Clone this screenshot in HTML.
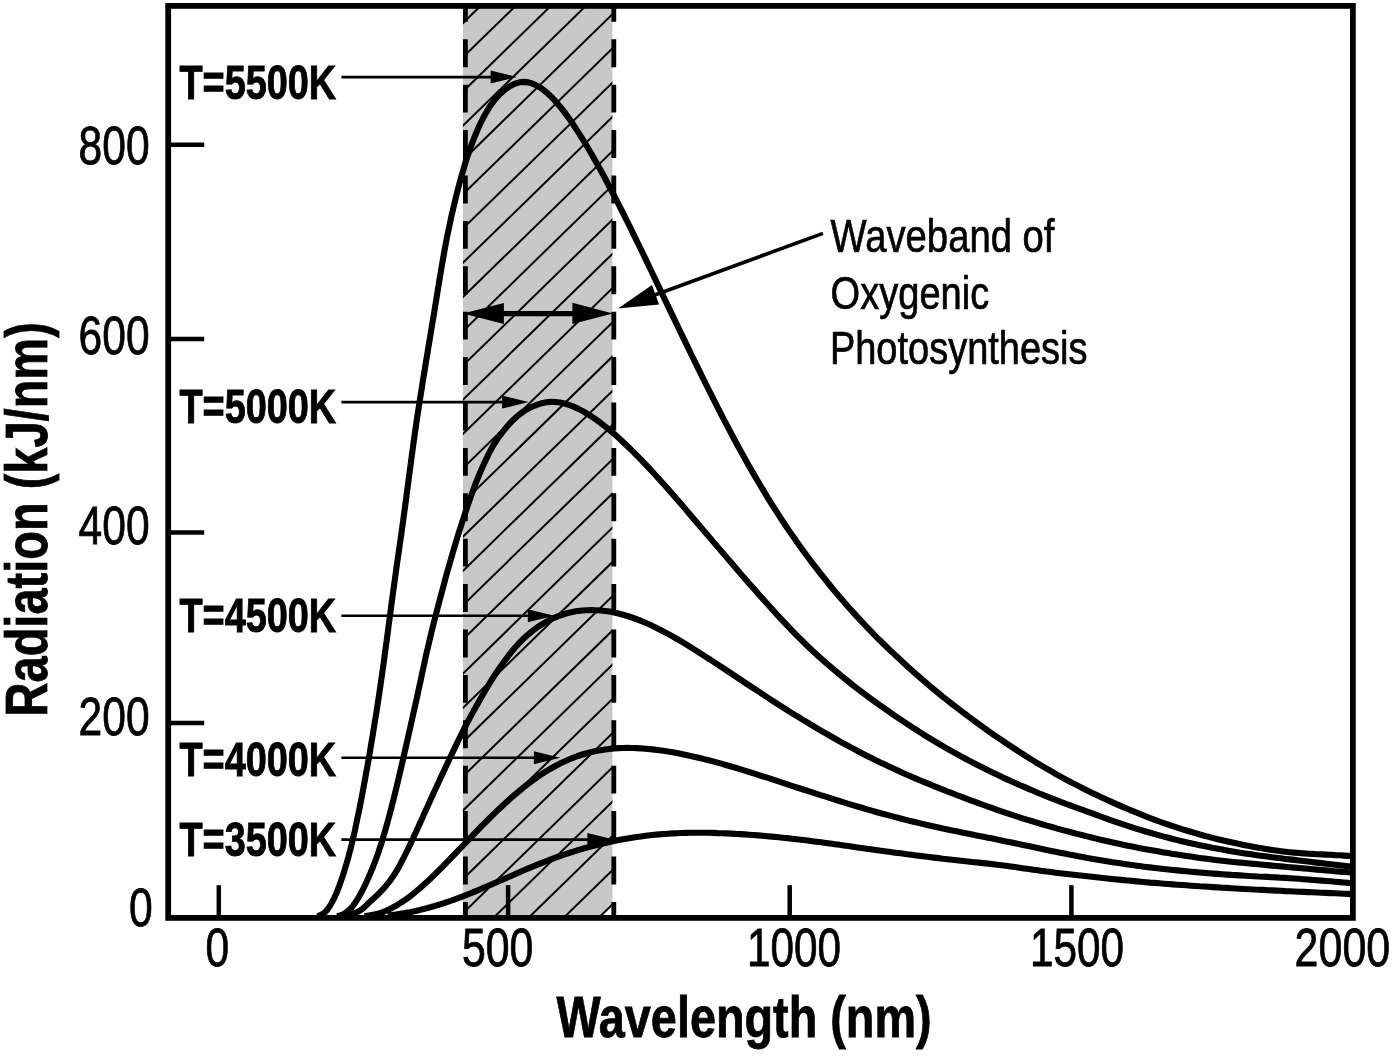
<!DOCTYPE html>
<html lang="en"><head><meta charset="utf-8"><title>Planck radiation curves and the waveband of oxygenic photosynthesis</title>
<style>html,body{margin:0;padding:0;background:#fff}body{width:1400px;height:1061px;overflow:hidden}svg{display:block}text{font-family:"Liberation Sans",Arial,Helvetica,sans-serif;fill:#000}</style></head><body>
<svg width="1400" height="1061" viewBox="0 0 1400 1061">
<rect width="1400" height="1061" fill="#fff"/>
<defs><clipPath id="band"><rect x="462.9" y="5.9" width="149.5" height="912.0"/></clipPath></defs>
<rect x="462.9" y="5.9" width="149.5" height="912.0" fill="#c8c8c8"/>
<polygon points="612.9,904.5 612.9,917.9 598.6,917.9" fill="#fff"/>
<g clip-path="url(#band)" stroke="#000" stroke-width="2" fill="none">
<line x1="457.9" y1="-40.5" x2="617.4" y2="-196.1"/>
<line x1="457.9" y1="-6.2" x2="617.4" y2="-161.9"/>
<line x1="457.9" y1="28.0" x2="617.4" y2="-127.6"/>
<line x1="457.9" y1="62.2" x2="617.4" y2="-93.4"/>
<line x1="457.9" y1="96.5" x2="617.4" y2="-59.1"/>
<line x1="457.9" y1="130.7" x2="617.4" y2="-24.9"/>
<line x1="457.9" y1="165.0" x2="617.4" y2="9.3"/>
<line x1="457.9" y1="199.2" x2="617.4" y2="43.6"/>
<line x1="457.9" y1="233.4" x2="617.4" y2="77.8"/>
<line x1="457.9" y1="267.7" x2="617.4" y2="112.1"/>
<line x1="457.9" y1="301.9" x2="617.4" y2="146.3"/>
<line x1="457.9" y1="336.2" x2="617.4" y2="180.5"/>
<line x1="457.9" y1="370.4" x2="617.4" y2="214.8"/>
<line x1="457.9" y1="404.6" x2="617.4" y2="249.0"/>
<line x1="457.9" y1="438.9" x2="617.4" y2="283.3"/>
<line x1="457.9" y1="473.1" x2="617.4" y2="317.5"/>
<line x1="457.9" y1="507.4" x2="617.4" y2="351.7"/>
<line x1="457.9" y1="541.6" x2="617.4" y2="386.0"/>
<line x1="457.9" y1="575.8" x2="617.4" y2="420.2"/>
<line x1="457.9" y1="610.1" x2="617.4" y2="454.5"/>
<line x1="457.9" y1="644.3" x2="617.4" y2="488.7"/>
<line x1="457.9" y1="678.6" x2="617.4" y2="522.9"/>
<line x1="457.9" y1="712.8" x2="617.4" y2="557.2"/>
<line x1="457.9" y1="747.0" x2="617.4" y2="591.4"/>
<line x1="457.9" y1="781.3" x2="617.4" y2="625.7"/>
<line x1="457.9" y1="815.5" x2="617.4" y2="659.9"/>
<line x1="457.9" y1="849.8" x2="617.4" y2="694.1"/>
<line x1="457.9" y1="884.0" x2="617.4" y2="728.4"/>
<line x1="457.9" y1="918.2" x2="617.4" y2="762.6"/>
<line x1="457.9" y1="952.5" x2="617.4" y2="796.9"/>
<line x1="457.9" y1="986.7" x2="617.4" y2="831.1"/>
<line x1="457.9" y1="1021.0" x2="617.4" y2="865.3"/>
<line x1="457.9" y1="1055.2" x2="617.4" y2="899.6"/>
</g>
<line x1="465.4" y1="5.9" x2="465.4" y2="917.9" stroke="#000" stroke-width="4.8" stroke-dasharray="27.9 17.5" stroke-dashoffset="12.0"/>
<line x1="613.8" y1="5.9" x2="613.8" y2="917.9" stroke="#000" stroke-width="4.8" stroke-dasharray="27.9 17.5" stroke-dashoffset="12.0"/>
<g fill="none" stroke="#000" stroke-width="6.1" stroke-linejoin="round" stroke-linecap="butt">
<path d="M317.3,916.2 L318.4,915.9 L319.4,915.5 L320.4,915.1 L321.4,914.7 L322.3,914.2 L323.2,913.7 L324.1,913.0 L324.9,912.4 L325.6,911.6 L326.4,910.8 L327.1,909.9 L327.9,908.9 L328.7,907.8 L329.5,906.6 L330.3,905.3 L331.1,903.9 L331.9,902.4 L332.8,900.8 L333.7,899.1 L334.6,897.3 L335.5,895.3 L336.4,893.2 L337.3,891.0 L338.2,888.6 L339.2,886.1 L340.1,883.5 L341.1,880.7 L342.1,877.8 L343.1,874.7 L344.2,871.5 L345.2,868.1 L346.2,864.6 L347.3,860.9 L348.4,857.1 L349.4,853.1 L350.5,849.0 L351.6,844.7 L352.6,840.2 L353.7,835.6 L354.8,830.9 L355.8,826.0 L356.9,820.9 L358.0,815.7 L359.1,810.4 L360.2,804.9 L361.3,799.3 L362.4,793.5 L363.5,787.6 L364.6,781.6 L365.7,775.4 L366.9,769.1 L368.0,762.7 L369.2,756.2 L370.3,749.5 L371.4,742.8 L372.6,735.9 L373.7,728.9 L374.8,721.9 L376.0,714.9 L377.1,707.8 L378.2,700.6 L379.3,693.4 L380.4,686.0 L381.4,678.6 L382.5,671.1 L383.6,663.6 L384.6,656.0 L385.6,648.3 L386.7,640.6 L387.7,632.9 L388.7,625.1 L389.8,617.2 L390.8,609.4 L391.8,601.5 L392.9,593.6 L394.0,585.6 L395.1,577.7 L396.2,569.7 L397.3,561.7 L398.5,553.7 L399.6,545.8 L400.8,537.8 L401.9,529.8 L403.0,521.7 L404.1,513.6 L405.2,505.5 L406.3,497.5 L407.3,489.5 L408.4,481.5 L409.4,473.6 L410.5,465.7 L411.5,457.8 L412.6,450.0 L413.6,442.2 L414.7,434.5 L415.8,426.8 L416.9,419.2 L418.1,411.6 L419.2,404.1 L420.4,396.6 L421.6,389.3 L422.7,381.9 L423.9,374.7 L425.1,367.5 L426.2,360.4 L427.4,353.4 L428.5,346.5 L429.7,339.6 L430.8,332.8 L431.9,326.1 L433.0,319.4 L434.1,312.9 L435.1,306.4 L436.2,300.0 L437.2,293.7 L438.2,287.5 L439.2,281.4 L440.2,275.4 L441.2,269.4 L442.2,263.6 L443.2,257.9 L444.2,252.2 L445.2,246.7 L446.2,241.2 L447.3,235.9 L451.6,215.4 L456.1,196.5 L460.6,179.1 L465.2,163.3 L469.9,149.1 L474.8,136.3 L479.7,125.0 L484.6,115.2 L489.6,106.8 L494.8,99.8 L500.0,94.0 L505.1,89.5 L510.1,86.1 L514.9,83.7 L519.4,82.3 L523.9,81.9 L528.4,82.4 L532.9,83.7 L537.4,85.9 L541.9,88.7 L546.4,92.3 L550.9,96.4 L555.4,101.2 L559.9,106.4 L564.4,112.1 L568.9,118.3 L573.4,124.8 L577.9,131.7 L582.4,138.8 L586.9,146.3 L591.5,154.0 L596.0,161.9 L600.5,170.0 L605.0,178.3 L609.5,186.8 L614.0,195.4 L618.5,204.1 L623.0,213.0 L627.5,222.0 L632.0,231.1 L636.5,240.3 L641.0,249.5 L645.5,258.9 L650.0,268.3 L654.5,277.7 L659.0,287.1 L663.5,296.6 L668.0,306.1 L672.6,315.6 L677.1,325.0 L681.6,334.4 L686.1,343.7 L690.6,353.0 L695.1,362.2 L699.6,371.4 L704.1,380.5 L708.6,389.5 L713.1,398.4 L717.6,407.3 L722.1,416.1 L726.6,424.7 L731.1,433.2 L735.6,441.7 L740.1,450.0 L744.6,458.1 L749.1,466.2 L753.7,474.1 L758.2,481.8 L762.7,489.4 L767.2,496.8 L771.7,504.1 L776.2,511.2 L780.7,518.1 L785.2,525.0 L789.7,531.6 L794.2,538.1 L798.7,544.4 L803.2,550.7 L807.7,556.8 L812.2,562.8 L816.7,568.7 L821.3,574.5 L825.8,580.2 L830.3,585.7 L834.8,591.2 L839.3,596.5 L843.8,601.8 L848.3,606.9 L852.8,611.9 L857.3,616.9 L861.8,621.7 L866.3,626.5 L870.8,631.2 L875.3,635.8 L879.8,640.3 L884.4,644.7 L888.9,649.1 L893.4,653.4 L897.9,657.6 L902.4,661.8 L906.9,665.9 L911.4,670.0 L915.9,674.0 L920.4,677.9 L924.9,681.8 L929.4,685.6 L933.9,689.4 L938.4,693.1 L942.9,696.8 L947.5,700.4 L952.0,704.0 L956.5,707.4 L961.0,710.9 L965.5,714.3 L970.0,717.6 L974.5,721.0 L979.0,724.3 L983.5,727.5 L988.0,730.7 L992.5,733.9 L997.0,737.0 L1001.5,740.1 L1006.0,743.1 L1010.6,746.1 L1015.1,749.1 L1019.6,752.0 L1024.1,754.9 L1028.6,757.8 L1033.1,760.5 L1037.6,763.3 L1042.1,766.0 L1046.6,768.6 L1051.1,771.2 L1055.6,773.8 L1060.1,776.3 L1064.6,778.8 L1069.1,781.2 L1073.7,783.6 L1078.2,785.9 L1082.7,788.2 L1087.2,790.4 L1091.7,792.7 L1096.2,794.8 L1100.7,797.0 L1105.2,799.1 L1109.7,801.1 L1114.2,803.1 L1118.7,805.1 L1123.2,807.1 L1127.7,809.0 L1132.2,810.9 L1136.7,812.7 L1141.2,814.5 L1145.7,816.3 L1150.2,818.1 L1154.8,819.8 L1159.3,821.5 L1163.8,823.1 L1168.3,824.7 L1172.8,826.2 L1177.3,827.7 L1181.8,829.1 L1186.3,830.5 L1190.8,831.8 L1195.3,833.2 L1199.8,834.5 L1204.3,835.7 L1208.8,836.9 L1213.3,838.1 L1217.8,839.2 L1222.3,840.3 L1226.8,841.3 L1231.3,842.3 L1235.9,843.3 L1240.4,844.3 L1244.9,845.2 L1249.4,846.1 L1253.9,846.9 L1258.4,847.7 L1262.9,848.5 L1267.4,849.2 L1271.9,849.9 L1276.4,850.6 L1280.9,851.2 L1285.4,851.7 L1289.9,852.2 L1294.4,852.6 L1298.9,853.0 L1303.4,853.4 L1307.9,853.7 L1312.4,853.9 L1317.0,854.2 L1321.5,854.4 L1326.0,854.6 L1330.5,854.8 L1335.0,855.1 L1339.5,855.3 L1344.0,855.6 L1348.5,855.9 L1353.0,856.3 L1353.0,856.3"/>
<path d="M337.0,916.1 L338.1,915.9 L339.2,915.6 L340.2,915.3 L341.2,915.0 L342.2,914.6 L343.1,914.2 L344.1,913.7 L345.0,913.2 L345.8,912.7 L346.6,912.1 L347.4,911.5 L348.2,910.8 L349.0,910.1 L349.8,909.3 L350.7,908.5 L351.5,907.6 L352.3,906.6 L353.1,905.6 L353.9,904.5 L354.7,903.4 L355.5,902.2 L356.4,900.9 L357.2,899.6 L358.1,898.2 L359.0,896.7 L359.9,895.1 L360.8,893.5 L361.7,891.8 L362.6,890.0 L363.6,888.1 L364.5,886.2 L365.5,884.2 L366.4,882.1 L367.4,879.9 L368.4,877.7 L369.5,875.3 L370.5,872.9 L371.5,870.4 L372.6,867.9 L373.6,865.2 L374.7,862.5 L375.8,859.7 L376.8,856.8 L377.9,853.9 L378.9,850.8 L379.9,847.8 L381.0,844.6 L382.0,841.3 L383.0,838.0 L384.0,834.6 L385.0,831.2 L386.0,827.7 L387.0,824.1 L388.0,820.5 L389.0,816.8 L390.0,813.0 L391.0,809.2 L392.0,805.3 L393.0,801.4 L394.0,797.4 L395.0,793.3 L396.0,789.3 L397.0,785.1 L398.0,781.0 L399.0,776.8 L400.0,772.5 L401.0,768.2 L402.0,763.9 L403.0,759.5 L404.0,755.1 L405.0,750.7 L406.0,746.3 L407.0,741.8 L408.0,737.3 L409.0,732.8 L410.1,728.2 L411.1,723.7 L412.1,719.2 L413.1,714.7 L414.1,710.2 L415.1,705.8 L416.1,701.3 L417.1,696.8 L418.1,692.3 L419.0,687.8 L420.0,683.3 L421.0,678.8 L421.9,674.3 L422.9,669.8 L423.9,665.3 L424.9,660.8 L425.8,656.4 L426.8,651.9 L427.9,647.5 L428.9,643.1 L429.9,638.7 L431.0,634.3 L432.0,629.9 L433.1,625.6 L434.2,621.3 L435.3,617.0 L436.4,612.7 L437.5,608.5 L438.6,604.3 L439.7,600.1 L440.8,596.0 L441.9,591.9 L443.0,587.8 L444.1,583.8 L445.1,579.8 L446.2,575.8 L447.3,571.8 L448.4,568.0 L449.5,564.1 L453.8,549.1 L458.2,534.7 L462.6,520.9 L466.9,507.7 L471.2,495.4 L475.5,483.8 L479.9,473.0 L484.3,463.1 L488.7,453.9 L493.2,445.5 L498.1,438.0 L503.1,431.4 L508.0,425.4 L512.9,420.2 L517.8,415.8 L522.7,412.0 L527.6,408.9 L532.6,406.5 L537.4,404.6 L541.9,403.2 L546.4,402.3 L550.9,401.9 L555.4,402.0 L559.9,402.6 L564.4,403.5 L568.9,404.9 L573.4,406.6 L577.9,408.6 L582.4,410.9 L586.9,413.5 L591.5,416.4 L596.0,419.5 L600.5,422.8 L605.0,426.3 L609.5,430.0 L614.0,433.8 L618.5,437.8 L623.0,442.0 L627.5,446.2 L632.0,450.6 L636.5,455.1 L641.0,459.7 L645.5,464.4 L650.0,469.2 L654.5,474.0 L659.0,479.0 L663.5,484.0 L668.0,489.1 L672.6,494.2 L677.1,499.4 L681.6,504.6 L686.1,509.9 L690.6,515.2 L695.1,520.5 L699.6,525.8 L704.1,531.1 L708.6,536.3 L713.1,541.6 L717.6,546.9 L722.1,552.1 L726.6,557.4 L731.1,562.6 L735.6,567.8 L740.1,573.1 L744.6,578.2 L749.1,583.4 L753.7,588.6 L758.2,593.7 L762.7,598.8 L767.2,603.8 L771.7,608.8 L776.2,613.8 L780.7,618.6 L785.2,623.4 L789.7,628.2 L794.2,632.8 L798.7,637.4 L803.2,641.8 L807.7,646.2 L812.2,650.4 L816.7,654.6 L821.3,658.7 L825.8,662.7 L830.3,666.6 L834.8,670.4 L839.3,674.2 L843.8,677.9 L848.3,681.5 L852.8,685.1 L857.3,688.6 L861.8,692.0 L866.3,695.4 L870.8,698.7 L875.3,702.0 L879.8,705.3 L884.4,708.4 L888.9,711.6 L893.4,714.7 L897.9,717.7 L902.4,720.7 L906.9,723.7 L911.4,726.7 L915.9,729.6 L920.4,732.5 L924.9,735.3 L929.4,738.1 L933.9,740.9 L938.4,743.5 L942.9,746.2 L947.5,748.8 L952.0,751.3 L956.5,753.8 L961.0,756.3 L965.5,758.7 L970.0,761.1 L974.5,763.5 L979.0,765.8 L983.5,768.0 L988.0,770.3 L992.5,772.5 L997.0,774.6 L1001.5,776.8 L1006.0,778.9 L1010.6,780.9 L1015.1,783.0 L1019.6,785.0 L1024.1,786.9 L1028.6,788.9 L1033.1,790.8 L1037.6,792.7 L1042.1,794.5 L1046.6,796.3 L1051.1,798.1 L1055.6,799.9 L1060.1,801.6 L1064.6,803.3 L1069.1,805.0 L1073.7,806.6 L1078.2,808.3 L1082.7,809.9 L1087.2,811.6 L1091.7,813.2 L1096.2,814.9 L1100.7,816.5 L1105.2,818.1 L1109.7,819.8 L1114.2,821.3 L1118.7,822.9 L1123.2,824.4 L1127.7,825.9 L1132.2,827.4 L1136.7,828.8 L1141.2,830.2 L1145.7,831.5 L1150.2,832.8 L1154.8,834.1 L1159.3,835.4 L1163.8,836.6 L1168.3,837.8 L1172.8,839.0 L1177.3,840.1 L1181.8,841.2 L1186.3,842.2 L1190.8,843.2 L1195.3,844.2 L1199.8,845.2 L1204.3,846.1 L1208.8,847.1 L1213.3,848.0 L1217.8,848.8 L1222.3,849.6 L1226.8,850.4 L1231.3,851.2 L1235.9,852.0 L1240.4,852.7 L1244.9,853.4 L1249.4,854.1 L1253.9,854.8 L1258.4,855.4 L1262.9,856.0 L1267.4,856.6 L1271.9,857.2 L1276.4,857.8 L1280.9,858.3 L1285.4,858.9 L1289.9,859.4 L1294.4,859.9 L1298.9,860.5 L1303.4,861.0 L1307.9,861.5 L1312.4,862.1 L1317.0,862.6 L1321.5,863.1 L1326.0,863.7 L1330.5,864.2 L1335.0,864.7 L1339.5,865.2 L1344.0,865.8 L1348.5,866.3 L1353.0,866.8 L1353.0,866.8"/>
<path d="M342.5,916.2 L343.7,916.0 L344.8,915.7 L346.0,915.5 L347.1,915.3 L348.3,915.0 L349.5,914.7 L350.6,914.4 L351.7,914.0 L352.9,913.7 L354.0,913.3 L355.1,912.9 L356.2,912.4 L357.3,912.0 L358.3,911.5 L359.2,911.0 L360.2,910.4 L361.1,909.8 L361.9,909.2 L362.8,908.6 L363.6,907.9 L364.4,907.2 L365.2,906.4 L366.0,905.6 L366.8,904.8 L367.6,904.0 L368.6,903.1 L369.5,902.2 L370.6,901.2 L371.7,900.2 L372.9,899.2 L374.0,898.1 L375.2,897.0 L376.4,895.9 L377.7,894.7 L378.9,893.5 L380.1,892.2 L381.4,890.9 L382.6,889.6 L383.9,888.2 L385.1,886.8 L386.3,885.4 L387.5,883.9 L388.7,882.4 L389.9,880.8 L391.1,879.2 L392.2,877.6 L393.4,875.9 L394.5,874.2 L395.6,872.5 L396.7,870.7 L397.7,868.9 L398.8,867.1 L399.8,865.3 L400.8,863.4 L401.8,861.4 L402.8,859.5 L403.8,857.5 L404.8,855.5 L405.8,853.5 L406.8,851.4 L407.9,849.3 L408.9,847.2 L409.9,845.1 L410.9,842.9 L411.9,840.7 L413.0,838.5 L414.0,836.3 L415.0,834.1 L416.1,831.8 L417.1,829.5 L418.2,827.2 L419.2,824.9 L420.3,822.6 L421.3,820.2 L422.4,817.9 L423.4,815.5 L424.5,813.1 L425.6,810.7 L426.7,808.3 L427.8,805.9 L428.9,803.5 L430.0,801.1 L431.1,798.6 L432.2,796.2 L433.3,793.7 L434.4,791.3 L435.6,788.8 L436.7,786.4 L437.8,783.9 L439.0,781.5 L440.1,779.0 L441.2,776.6 L442.4,774.1 L443.5,771.7 L444.7,769.2 L445.8,766.8 L447.0,764.4 L448.1,762.0 L449.2,759.5 L450.4,757.1 L454.9,747.6 L459.5,738.2 L464.0,729.0 L468.6,720.1 L473.2,711.6 L477.8,703.5 L482.5,695.3 L487.2,687.3 L491.8,679.7 L496.5,672.5 L501.1,665.7 L505.8,659.3 L510.3,653.4 L514.9,647.8 L519.4,642.7 L523.9,638.3 L528.4,634.3 L532.9,630.6 L537.4,627.3 L541.9,624.3 L546.4,621.7 L550.9,619.3 L555.4,617.3 L559.9,615.5 L564.4,614.0 L568.9,612.8 L573.4,611.8 L577.9,611.0 L582.4,610.5 L586.9,610.2 L591.5,610.1 L596.0,610.2 L600.5,610.5 L605.0,611.0 L609.5,611.6 L614.0,612.5 L618.5,613.5 L623.0,614.7 L627.5,616.0 L632.0,617.5 L636.5,619.1 L641.0,620.9 L645.5,622.8 L650.0,624.8 L654.5,626.9 L659.0,629.2 L663.5,631.5 L668.0,633.9 L672.6,636.4 L677.1,639.0 L681.6,641.7 L686.1,644.4 L690.6,647.2 L695.1,650.0 L699.6,652.8 L704.1,655.7 L708.6,658.6 L713.1,661.5 L717.6,664.5 L722.1,667.4 L726.6,670.4 L731.1,673.4 L735.6,676.4 L740.1,679.4 L744.6,682.4 L749.1,685.4 L753.7,688.4 L758.2,691.3 L762.7,694.3 L767.2,697.2 L771.7,700.2 L776.2,703.1 L780.7,706.0 L785.2,708.8 L789.7,711.7 L794.2,714.5 L798.7,717.2 L803.2,720.0 L807.7,722.7 L812.2,725.4 L816.7,728.1 L821.3,730.8 L825.8,733.4 L830.3,736.0 L834.8,738.5 L839.3,741.1 L843.8,743.6 L848.3,746.0 L852.8,748.4 L857.3,750.8 L861.8,753.2 L866.3,755.5 L870.8,757.7 L875.3,760.0 L879.8,762.2 L884.4,764.3 L888.9,766.5 L893.4,768.6 L897.9,770.6 L902.4,772.7 L906.9,774.7 L911.4,776.6 L915.9,778.6 L920.4,780.5 L924.9,782.4 L929.4,784.2 L933.9,786.1 L938.4,787.9 L942.9,789.7 L947.5,791.5 L952.0,793.2 L956.5,795.0 L961.0,796.7 L965.5,798.4 L970.0,800.1 L974.5,801.7 L979.0,803.4 L983.5,805.0 L988.0,806.6 L992.5,808.2 L997.0,809.8 L1001.5,811.3 L1006.0,812.9 L1010.6,814.4 L1015.1,815.9 L1019.6,817.3 L1024.1,818.8 L1028.6,820.2 L1033.1,821.5 L1037.6,822.9 L1042.1,824.2 L1046.6,825.6 L1051.1,826.8 L1055.6,828.1 L1060.1,829.4 L1064.6,830.6 L1069.1,831.8 L1073.7,833.0 L1078.2,834.1 L1082.7,835.3 L1087.2,836.4 L1091.7,837.5 L1096.2,838.6 L1100.7,839.7 L1105.2,840.7 L1109.7,841.8 L1114.2,842.8 L1118.7,843.8 L1123.2,844.7 L1127.7,845.7 L1132.2,846.6 L1136.7,847.5 L1141.2,848.4 L1145.7,849.2 L1150.2,850.0 L1154.8,850.8 L1159.3,851.6 L1163.8,852.4 L1168.3,853.1 L1172.8,853.9 L1177.3,854.6 L1181.8,855.3 L1186.3,856.0 L1190.8,856.6 L1195.3,857.3 L1199.8,857.9 L1204.3,858.5 L1208.8,859.1 L1213.3,859.7 L1217.8,860.2 L1222.3,860.7 L1226.8,861.2 L1231.3,861.7 L1235.9,862.2 L1240.4,862.6 L1244.9,863.0 L1249.4,863.5 L1253.9,863.9 L1258.4,864.3 L1262.9,864.7 L1267.4,865.1 L1271.9,865.6 L1276.4,866.0 L1280.9,866.4 L1285.4,866.8 L1289.9,867.2 L1294.4,867.6 L1298.9,868.0 L1303.4,868.4 L1307.9,868.8 L1312.4,869.2 L1317.0,869.6 L1321.5,870.0 L1326.0,870.4 L1330.5,870.8 L1335.0,871.2 L1339.5,871.6 L1344.0,871.9 L1348.5,872.3 L1353.0,872.8 L1353.0,872.8"/>
<path d="M364.5,916.2 L365.7,916.0 L366.8,915.8 L368.0,915.7 L369.1,915.5 L370.3,915.3 L371.4,915.1 L372.6,914.9 L373.7,914.6 L374.8,914.4 L375.9,914.1 L377.0,913.9 L378.1,913.6 L379.2,913.3 L380.3,913.0 L381.3,912.7 L382.3,912.3 L383.3,912.0 L384.2,911.6 L385.1,911.2 L386.1,910.8 L387.0,910.4 L387.9,910.0 L388.8,909.6 L389.8,909.1 L390.7,908.6 L391.7,908.1 L392.6,907.6 L393.6,907.1 L394.6,906.6 L395.5,906.0 L396.5,905.5 L397.5,904.9 L398.4,904.3 L399.4,903.6 L400.4,903.0 L401.4,902.3 L402.5,901.7 L403.5,901.0 L404.5,900.3 L405.6,899.6 L406.6,898.8 L407.7,898.1 L408.7,897.3 L409.8,896.5 L410.9,895.7 L411.9,894.9 L412.9,894.1 L414.0,893.2 L415.0,892.4 L416.1,891.5 L417.1,890.6 L418.2,889.7 L419.3,888.8 L420.3,887.9 L421.4,886.9 L422.5,886.0 L423.5,885.0 L424.6,884.0 L425.7,883.0 L426.8,882.0 L427.9,881.0 L429.0,880.0 L430.1,878.9 L431.2,877.9 L432.3,876.8 L433.4,875.7 L434.5,874.7 L435.6,873.6 L436.7,872.5 L437.8,871.4 L439.0,870.3 L440.1,869.1 L441.2,868.0 L442.4,866.9 L443.5,865.7 L444.6,864.6 L445.8,863.4 L446.9,862.2 L448.0,861.1 L449.2,859.9 L450.3,858.7 L454.9,854.0 L459.5,849.2 L464.1,844.3 L468.8,839.5 L473.4,834.7 L478.0,829.9 L482.6,825.1 L487.3,820.5 L491.9,815.9 L496.5,811.4 L501.2,807.0 L505.8,802.8 L510.4,798.6 L514.9,794.6 L519.4,790.8 L523.9,787.1 L528.4,783.6 L532.9,780.2 L537.4,777.0 L541.9,774.0 L546.4,771.2 L550.9,768.5 L555.4,766.0 L559.9,763.6 L564.4,761.5 L568.9,759.5 L573.4,757.7 L577.9,756.0 L582.4,754.5 L586.9,753.2 L591.5,752.0 L596.0,751.0 L600.5,750.2 L605.0,749.5 L609.5,748.9 L614.0,748.5 L618.5,748.1 L623.0,748.0 L627.5,747.9 L632.0,748.0 L636.5,748.1 L641.0,748.4 L645.5,748.7 L650.0,749.1 L654.5,749.6 L659.0,750.2 L663.5,750.8 L668.0,751.5 L672.6,752.3 L677.1,753.1 L681.6,754.0 L686.1,754.9 L690.6,755.9 L695.1,756.9 L699.6,758.0 L704.1,759.1 L708.6,760.2 L713.1,761.4 L717.6,762.6 L722.1,763.9 L726.6,765.2 L731.1,766.5 L735.6,767.8 L740.1,769.2 L744.6,770.6 L749.1,772.0 L753.7,773.4 L758.2,774.9 L762.7,776.3 L767.2,777.7 L771.7,779.2 L776.2,780.7 L780.7,782.1 L785.2,783.6 L789.7,785.1 L794.2,786.6 L798.7,788.0 L803.2,789.5 L807.7,790.9 L812.2,792.4 L816.7,793.8 L821.3,795.3 L825.8,796.7 L830.3,798.2 L834.8,799.6 L839.3,801.0 L843.8,802.4 L848.3,803.8 L852.8,805.1 L857.3,806.5 L861.8,807.8 L866.3,809.1 L870.8,810.4 L875.3,811.7 L879.8,813.0 L884.4,814.2 L888.9,815.4 L893.4,816.6 L897.9,817.8 L902.4,819.0 L906.9,820.1 L911.4,821.2 L915.9,822.3 L920.4,823.4 L924.9,824.4 L929.4,825.5 L933.9,826.5 L938.4,827.5 L942.9,828.5 L947.5,829.4 L952.0,830.4 L956.5,831.3 L961.0,832.3 L965.5,833.2 L970.0,834.1 L974.5,835.0 L979.0,835.9 L983.5,836.8 L988.0,837.7 L992.5,838.6 L997.0,839.5 L1001.5,840.4 L1006.0,841.4 L1010.6,842.3 L1015.1,843.3 L1019.6,844.2 L1024.1,845.2 L1028.6,846.1 L1033.1,847.1 L1037.6,848.0 L1042.1,849.0 L1046.6,849.9 L1051.1,850.9 L1055.6,851.8 L1060.1,852.7 L1064.6,853.6 L1069.1,854.5 L1073.7,855.3 L1078.2,856.2 L1082.7,857.0 L1087.2,857.9 L1091.7,858.7 L1096.2,859.5 L1100.7,860.2 L1105.2,861.0 L1109.7,861.7 L1114.2,862.4 L1118.7,863.1 L1123.2,863.8 L1127.7,864.5 L1132.2,865.1 L1136.7,865.7 L1141.2,866.3 L1145.7,866.9 L1150.2,867.4 L1154.8,868.0 L1159.3,868.5 L1163.8,869.0 L1168.3,869.5 L1172.8,870.0 L1177.3,870.4 L1181.8,870.9 L1186.3,871.3 L1190.8,871.7 L1195.3,872.1 L1199.8,872.5 L1204.3,872.9 L1208.8,873.2 L1213.3,873.6 L1217.8,873.9 L1222.3,874.2 L1226.8,874.6 L1231.3,874.9 L1235.9,875.1 L1240.4,875.4 L1244.9,875.7 L1249.4,876.0 L1253.9,876.2 L1258.4,876.5 L1262.9,876.7 L1267.4,876.9 L1271.9,877.2 L1276.4,877.4 L1280.9,877.7 L1285.4,877.9 L1289.9,878.2 L1294.4,878.5 L1298.9,878.8 L1303.4,879.2 L1307.9,879.5 L1312.4,879.9 L1317.0,880.2 L1321.5,880.6 L1326.0,881.0 L1330.5,881.3 L1335.0,881.7 L1339.5,882.1 L1344.0,882.5 L1348.5,882.9 L1353.0,883.3 L1353.0,883.3"/>
<path d="M387.8,915.5 L388.9,915.4 L390.1,915.3 L391.2,915.1 L392.4,915.0 L393.5,914.8 L394.7,914.7 L395.9,914.5 L397.0,914.3 L398.2,914.2 L399.3,914.0 L400.5,913.8 L401.6,913.6 L402.8,913.4 L404.0,913.2 L405.1,913.0 L406.3,912.8 L407.4,912.6 L408.6,912.4 L409.7,912.2 L410.9,911.9 L412.1,911.7 L413.2,911.4 L414.4,911.2 L415.5,910.9 L416.7,910.7 L417.8,910.4 L419.0,910.2 L420.2,909.9 L421.3,909.6 L422.5,909.3 L423.6,909.0 L424.8,908.7 L425.9,908.4 L427.1,908.1 L428.3,907.8 L429.4,907.5 L430.6,907.2 L431.7,906.8 L432.9,906.5 L434.0,906.2 L435.2,905.8 L436.4,905.5 L437.5,905.1 L438.7,904.8 L439.8,904.4 L441.0,904.1 L442.1,903.7 L443.3,903.3 L444.5,902.9 L445.6,902.5 L446.8,902.1 L447.9,901.8 L449.1,901.4 L450.2,901.0 L454.9,899.3 L459.5,897.6 L464.1,895.8 L468.8,894.0 L473.4,892.1 L478.0,890.2 L482.6,888.2 L487.3,886.3 L491.9,884.3 L496.5,882.3 L501.2,880.2 L505.8,878.2 L510.4,876.2 L514.9,874.2 L519.4,872.2 L523.9,870.3 L528.4,868.4 L532.9,866.5 L537.4,864.6 L541.9,862.8 L546.4,861.1 L550.9,859.3 L555.4,857.7 L559.9,856.1 L564.4,854.5 L568.9,853.0 L573.4,851.6 L577.9,850.2 L582.4,848.8 L586.9,847.6 L591.5,846.3 L596.0,845.2 L600.5,844.0 L605.0,843.0 L609.5,842.0 L614.0,841.0 L618.5,840.1 L623.0,839.3 L627.5,838.5 L632.0,837.7 L636.5,837.0 L641.0,836.4 L645.5,835.8 L650.0,835.3 L654.5,834.8 L659.0,834.4 L663.5,834.0 L668.0,833.7 L672.6,833.4 L677.1,833.2 L681.6,833.0 L686.1,832.9 L690.6,832.8 L695.1,832.8 L699.6,832.7 L704.1,832.8 L708.6,832.8 L713.1,832.9 L717.6,833.1 L722.1,833.2 L726.6,833.4 L731.1,833.6 L735.6,833.9 L740.1,834.1 L744.6,834.4 L749.1,834.7 L753.7,835.0 L758.2,835.4 L762.7,835.8 L767.2,836.2 L771.7,836.6 L776.2,837.0 L780.7,837.5 L785.2,838.0 L789.7,838.4 L794.2,839.0 L798.7,839.5 L803.2,840.0 L807.7,840.6 L812.2,841.2 L816.7,841.7 L821.3,842.3 L825.8,842.9 L830.3,843.6 L834.8,844.2 L839.3,844.8 L843.8,845.4 L848.3,846.1 L852.8,846.7 L857.3,847.4 L861.8,848.0 L866.3,848.7 L870.8,849.3 L875.3,849.9 L879.8,850.6 L884.4,851.2 L888.9,851.8 L893.4,852.4 L897.9,853.0 L902.4,853.6 L906.9,854.2 L911.4,854.8 L915.9,855.4 L920.4,855.9 L924.9,856.5 L929.4,857.1 L933.9,857.6 L938.4,858.1 L942.9,858.7 L947.5,859.2 L952.0,859.7 L956.5,860.2 L961.0,860.7 L965.5,861.2 L970.0,861.7 L974.5,862.2 L979.0,862.6 L983.5,863.1 L988.0,863.6 L992.5,864.1 L997.0,864.7 L1001.5,865.2 L1006.0,865.8 L1010.6,866.4 L1015.1,867.1 L1019.6,867.7 L1024.1,868.4 L1028.6,869.0 L1033.1,869.7 L1037.6,870.3 L1042.1,870.9 L1046.6,871.5 L1051.1,872.1 L1055.6,872.7 L1060.1,873.2 L1064.6,873.7 L1069.1,874.2 L1073.7,874.8 L1078.2,875.3 L1082.7,875.8 L1087.2,876.3 L1091.7,876.8 L1096.2,877.3 L1100.7,877.8 L1105.2,878.2 L1109.7,878.7 L1114.2,879.2 L1118.7,879.6 L1123.2,880.1 L1127.7,880.5 L1132.2,880.9 L1136.7,881.4 L1141.2,881.8 L1145.7,882.2 L1150.2,882.6 L1154.8,882.9 L1159.3,883.3 L1163.8,883.7 L1168.3,884.0 L1172.8,884.4 L1177.3,884.7 L1181.8,885.0 L1186.3,885.3 L1190.8,885.7 L1195.3,886.0 L1199.8,886.3 L1204.3,886.5 L1208.8,886.8 L1213.3,887.1 L1217.8,887.4 L1222.3,887.7 L1226.8,887.9 L1231.3,888.2 L1235.9,888.5 L1240.4,888.7 L1244.9,889.0 L1249.4,889.2 L1253.9,889.5 L1258.4,889.7 L1262.9,889.9 L1267.4,890.2 L1271.9,890.4 L1276.4,890.6 L1280.9,890.8 L1285.4,891.1 L1289.9,891.3 L1294.4,891.5 L1298.9,891.7 L1303.4,891.9 L1307.9,892.1 L1312.4,892.3 L1317.0,892.5 L1321.5,892.7 L1326.0,892.9 L1330.5,893.1 L1335.0,893.3 L1339.5,893.5 L1344.0,893.7 L1348.5,893.9 L1353.0,894.1 L1353.0,894.1"/>
</g>
<g stroke="#000" stroke-width="4.5" fill="none">
<line x1="168.2" y1="722.9" x2="204.2" y2="722.9"/>
<line x1="168.2" y1="532.6" x2="204.2" y2="532.6"/>
<line x1="168.2" y1="338.9" x2="204.2" y2="338.9"/>
<line x1="168.2" y1="144.7" x2="204.2" y2="144.7"/>
<line x1="218.8" y1="917.9" x2="218.8" y2="885.2"/>
<line x1="508.1" y1="917.9" x2="508.1" y2="885.2"/>
<line x1="789.7" y1="917.9" x2="789.7" y2="885.2"/>
<line x1="1071.4" y1="917.9" x2="1071.4" y2="885.2"/>
</g>
<rect x="168.2" y="5.9" width="1184.7" height="912.0" fill="none" stroke="#000" stroke-width="5.8"/>
<g stroke="#000" stroke-width="0.8">
<text x="78.6" y="164.0" font-size="53.5" text-anchor="start" textLength="71.0" lengthAdjust="spacingAndGlyphs">800</text>
<text x="78.6" y="354.2" font-size="53.5" text-anchor="start" textLength="71.0" lengthAdjust="spacingAndGlyphs">600</text>
<text x="78.6" y="544.2" font-size="53.5" text-anchor="start" textLength="71.0" lengthAdjust="spacingAndGlyphs">400</text>
<text x="78.6" y="734.6" font-size="53.5" text-anchor="start" textLength="71.0" lengthAdjust="spacingAndGlyphs">200</text>
<text x="129.0" y="925.6" font-size="53.5" text-anchor="start" textLength="23.7" lengthAdjust="spacingAndGlyphs">0</text>
<text x="205.6" y="966.2" font-size="53.5" text-anchor="start" textLength="23.7" lengthAdjust="spacingAndGlyphs">0</text>
<text x="462.0" y="966.2" font-size="53.5" text-anchor="start" textLength="71.4" lengthAdjust="spacingAndGlyphs">500</text>
<text x="747.0" y="966.2" font-size="53.5" text-anchor="start" textLength="94.0" lengthAdjust="spacingAndGlyphs">1000</text>
<text x="1030.0" y="966.2" font-size="53.5" text-anchor="start" textLength="94.0" lengthAdjust="spacingAndGlyphs">1500</text>
<text x="1294.6" y="966.2" font-size="53.5" text-anchor="start" textLength="95.6" lengthAdjust="spacingAndGlyphs">2000</text>
</g>
<text x="179.4" y="99.3" font-size="47.7" font-weight="700" text-anchor="start" textLength="156.8" lengthAdjust="spacingAndGlyphs" stroke="#000" stroke-width="0.9">T=5500K</text>
<line x1="341.4" y1="77.1" x2="497.1" y2="77.1" stroke="#000" stroke-width="2.6"/>
<polygon points="517.1,77.1 490.6,83.6 490.6,70.6"/>
<text x="179.4" y="422.6" font-size="47.7" font-weight="700" text-anchor="start" textLength="156.8" lengthAdjust="spacingAndGlyphs" stroke="#000" stroke-width="0.9">T=5000K</text>
<line x1="341.4" y1="402.1" x2="508.6" y2="402.1" stroke="#000" stroke-width="2.6"/>
<polygon points="528.6,402.1 502.1,408.6 502.1,395.6"/>
<text x="179.4" y="632.4" font-size="47.7" font-weight="700" text-anchor="start" textLength="156.8" lengthAdjust="spacingAndGlyphs" stroke="#000" stroke-width="0.9">T=4500K</text>
<line x1="341.4" y1="615.8" x2="534.3" y2="615.8" stroke="#000" stroke-width="2.6"/>
<polygon points="554.3,615.8 527.8,622.3 527.8,609.3"/>
<text x="179.4" y="775.5" font-size="47.7" font-weight="700" text-anchor="start" textLength="156.8" lengthAdjust="spacingAndGlyphs" stroke="#000" stroke-width="0.9">T=4000K</text>
<line x1="341.4" y1="757.7" x2="540.4" y2="757.7" stroke="#000" stroke-width="2.6"/>
<polygon points="560.4,757.7 533.9,764.2 533.9,751.2"/>
<text x="179.4" y="855.7" font-size="47.7" font-weight="700" text-anchor="start" textLength="156.8" lengthAdjust="spacingAndGlyphs" stroke="#000" stroke-width="0.9">T=3500K</text>
<line x1="341.4" y1="839.6" x2="593.9" y2="839.6" stroke="#000" stroke-width="2.6"/>
<polygon points="613.9,839.6 587.4,846.1 587.4,833.1"/>
<line x1="490" y1="313.6" x2="585" y2="313.6" stroke="#000" stroke-width="5.4"/>
<polygon points="462.9,313.4 503.9,302.9 503.9,323.9"/>
<polygon points="612.9,313.4 572.4,324.1 572.4,302.7"/>
<line x1="822.9" y1="233.4" x2="650" y2="296.8" stroke="#000" stroke-width="3.6"/>
<polygon points="618.0,308.5 652.0,285.1 659.1,304.4"/>
<g stroke="#000" stroke-width="0.7">
<text x="830.6" y="252.2" font-size="47.1" text-anchor="start" textLength="223.8" lengthAdjust="spacingAndGlyphs">Waveband of</text>
<text x="830.6" y="308.5" font-size="47.1" text-anchor="start" textLength="158.6" lengthAdjust="spacingAndGlyphs">Oxygenic</text>
<text x="829.9" y="363.9" font-size="47.1" text-anchor="start" textLength="257.6" lengthAdjust="spacingAndGlyphs">Photosynthesis</text>
</g>
<text x="556.4" y="1037.1" font-size="57.6" font-weight="700" text-anchor="start" textLength="375.2" lengthAdjust="spacingAndGlyphs" stroke="#000" stroke-width="0.8">Wavelength (nm)</text>
<g transform="translate(47.2,716.8) rotate(-90)"><text x="0.4" y="-0.3" font-size="59.4" font-weight="700" text-anchor="start" textLength="394.2" lengthAdjust="spacingAndGlyphs" stroke="#000" stroke-width="0.8">Radiation (kJ/nm)</text></g>
</svg></body></html>
